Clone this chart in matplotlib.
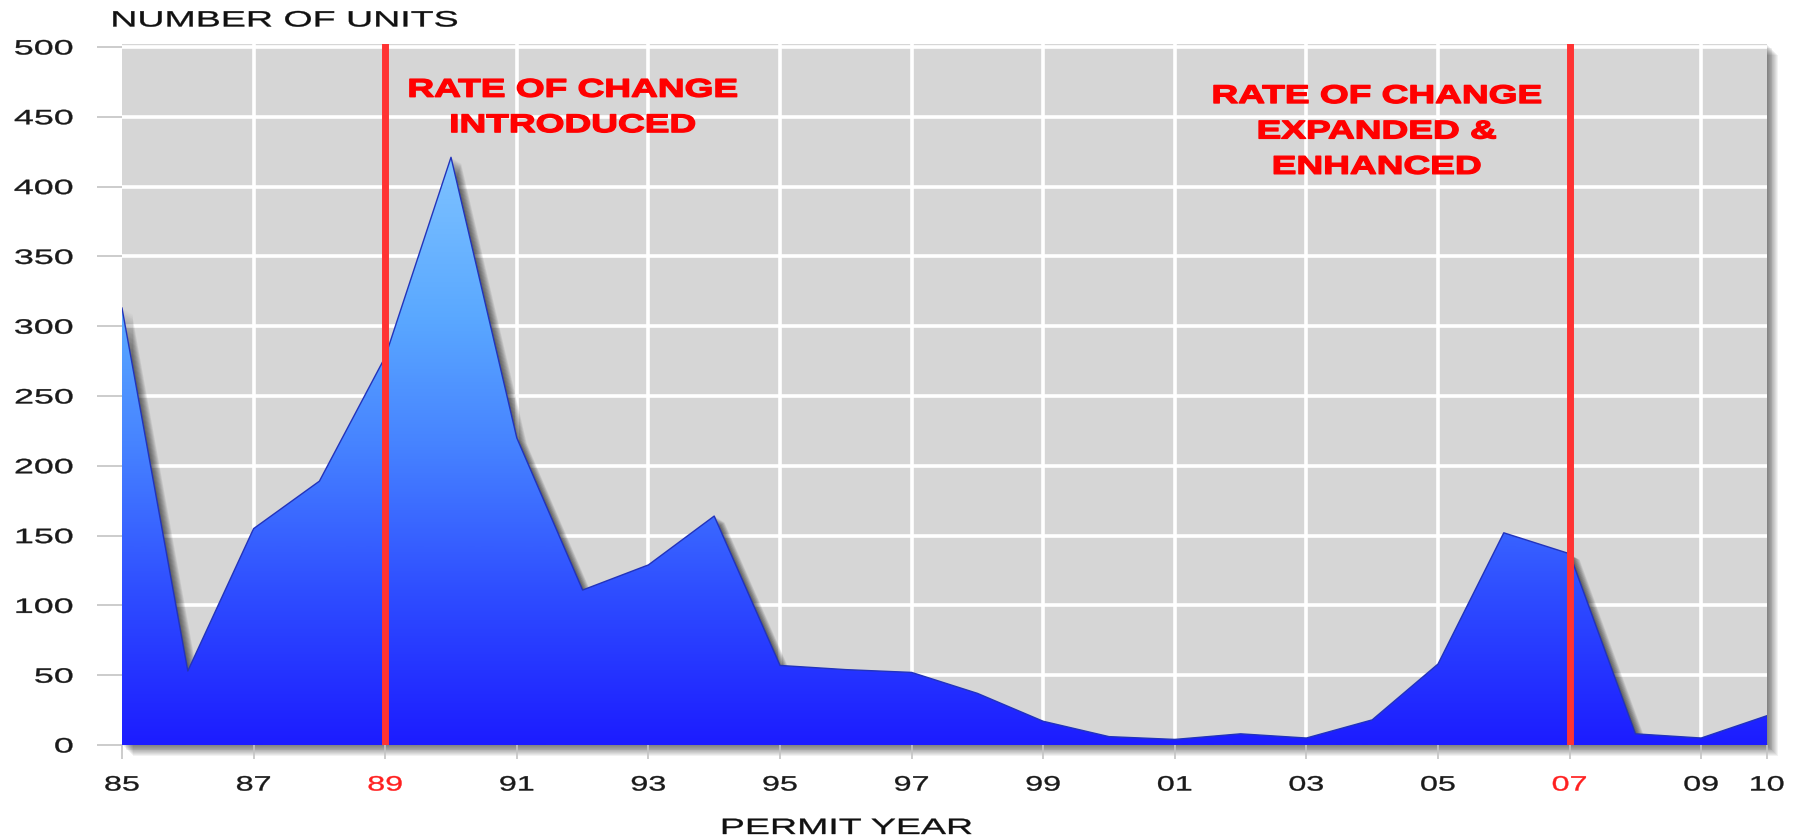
import numpy as np
import matplotlib
matplotlib.use("Agg")
import matplotlib.pyplot as plt
from matplotlib import patheffects
from matplotlib.transforms import Affine2D, ScaledTranslation
from matplotlib.colors import LinearSegmentedColormap
from matplotlib.patches import Rectangle, PathPatch

# ---------------- data ----------------
years = list(range(1985, 2011))
units = [313, 53, 155, 189, 278, 421, 220, 111, 129, 164,
         57, 54, 52, 37, 17, 6, 4, 8, 5, 18,
         58, 152, 137, 8, 5, 21]

xtick_years = [1985, 1987, 1989, 1991, 1993, 1995, 1997, 1999,
               2001, 2003, 2005, 2007, 2009, 2010]
xtick_labels = ["85", "87", "89", "91", "93", "95", "97", "99",
                "01", "03", "05", "07", "09", "10"]
ytick_values = [0, 50, 100, 150, 200, 250, 300, 350, 400, 450, 500]

event_years = [1989, 2007]
event_tick_labels = ["89", "07"]
event_labels = ["RATE OF CHANGE\nINTRODUCED",
                "RATE OF CHANGE\nEXPANDED &\nENHANCED"]
event_label_pos = [(1991.85, 478), (2004.07, 473.5)]

y_title = "NUMBER OF UNITS"
x_title = "PERMIT YEAR"


# -------------- helpers --------------
class HStretch(patheffects.AbstractPathEffect):
    """Draw text glyphs horizontally stretched (wide lettering), optionally emboldened."""
    def __init__(self, sx, anchor="center", stroke=0.0):
        super().__init__((0.0, 0.0))
        self.sx = sx
        self.anchor = anchor
        self.stroke = stroke

    def draw_path(self, renderer, gc, tpath, affine, rgbFace=None):
        ext = tpath.get_extents()
        if not np.all(np.isfinite([ext.x0, ext.x1])):
            renderer.draw_path(gc, tpath, affine, rgbFace)
            return
        if self.anchor == "left":
            cx = ext.x0
        elif self.anchor == "right":
            cx = ext.x1
        else:
            cx = 0.5 * (ext.x0 + ext.x1)
        t = Affine2D().translate(-cx, 0).scale(self.sx, 1.0).translate(cx, 0) + affine
        if self.stroke > 0 and rgbFace is not None:
            gc0 = renderer.new_gc()
            gc0.copy_properties(gc)
            gc0.set_linewidth(self.stroke)
            gc0.set_foreground(rgbFace)
            gc0.set_joinstyle("round")
            renderer.draw_path(gc0, tpath, t, rgbFace)
            gc0.restore()
        else:
            renderer.draw_path(gc, tpath, t, rgbFace)


FONT = "Liberation Sans"
plt.rcParams["font.family"] = [FONT, "DejaVu Sans"]

W, H = 1803, 838
fig = plt.figure(figsize=(W / 100, H / 100), dpi=100, facecolor="white")

left_px, right_px, bottom_px, top_px = 122, 1767, 745, 44
ax = fig.add_axes([left_px / W, 1 - bottom_px / H,
                   (right_px - left_px) / W, (bottom_px - top_px) / H])
ax.set_facecolor("#d6d6d6")
for s in ax.spines.values():
    s.set_visible(False)

YTOP = 500 * (bottom_px - top_px) / (bottom_px - 47)

# shadow of the plot box (right / bottom)
for i in range(1, 13):
    off = ScaledTranslation(i * 0.9 / 100, -i * 0.9 / 100, fig.dpi_scale_trans)
    r = Rectangle((0, 0), 1, 1, transform=ax.transAxes + off,
                  facecolor="black", edgecolor="none", alpha=0.05, zorder=-1)
    fig.add_artist(r)

# grid
for yv in ytick_values[1:]:
    ax.axhline(yv, color="white", lw=2.6, zorder=1)
for xv in xtick_years:
    if years[0] < xv < years[-1]:
        ax.axvline(xv, color="white", lw=2.6, zorder=1)

# area shadow
for i in range(1, 11):
    off = ScaledTranslation(i * 1.0 / 100, -i * 0.6 / 100, fig.dpi_scale_trans)
    ax.fill_between(years, units, 0, transform=ax.transData + off,
                    facecolor="black", edgecolor="none", alpha=0.075, zorder=1.5)

# gradient-filled area
cmap = LinearSegmentedColormap.from_list(
    "bluegrad",
    [(0.0, "#1c1cff"), (0.25, "#2e4cff"), (0.5, "#4682ff"),
     (0.72, "#5aa8ff"), (1.0, "#80c4ff")])
grad = np.linspace(0, 1, 512).reshape(-1, 1)
im = ax.imshow(grad, extent=[years[0], years[-1], 0, max(units) + 5],
               origin="lower", aspect="auto", cmap=cmap, zorder=2,
               interpolation="bilinear")
poly = ax.fill_between(years, units, 0, facecolor="none", edgecolor="none")
clip = PathPatch(poly.get_paths()[0], transform=ax.transData,
                 facecolor="none", edgecolor="none")
ax.add_patch(clip)
im.set_clip_path(clip)
ax.plot(years, units, color="#2233bb", lw=1.0, zorder=2.2)
ax.set_xlim(years[0], years[-1])
ax.set_ylim(0, YTOP)

# event lines
for ev in event_years:
    ax.axvline(ev, color="#ff3333", lw=5.0, zorder=3)

# event annotations
for (lx, ly), txt in zip(event_label_pos, event_labels):
    t = ax.text(lx, ly, txt, ha="center", va="top", multialignment="center",
                color="#ff0000", fontsize=18.4, fontweight="bold",
                family=[FONT, "DejaVu Sans"], linespacing=1.6, zorder=4)
    t.set_path_effects([HStretch(1.45, "center", stroke=1.0)])

# ticks
ax.set_yticks(ytick_values)
ax.set_xticks(xtick_years)
ax.set_xticklabels(xtick_labels)
ax.tick_params(axis="y", length=18, width=1.2, color="#c4c4c4", pad=17,
               labelsize=15, labelcolor="#1a1a1a")
ax.tick_params(axis="x", length=10, width=1.2, color="#c4c4c4", pad=12,
               labelsize=15, labelcolor="#1a1a1a")
for lbl in ax.get_yticklabels():
    lbl.set_path_effects([HStretch(1.72, "right", stroke=0.25)])
for lbl in ax.get_xticklabels():
    lbl.set_path_effects([HStretch(1.55, "center", stroke=0.25)])
    if lbl.get_text() in event_tick_labels:
        lbl.set_color("#ff2020")

# axis titles
ax.set_ylabel(y_title, rotation=0, ha="left", va="baseline", fontsize=16,
              color="#111111")
ax.yaxis.set_label_coords((111.5 - left_px) / (right_px - left_px),
                          (bottom_px - 26.5) / (bottom_px - top_px))
ax.yaxis.label.set_path_effects([HStretch(1.69, "left", stroke=0.25)])

ax.set_xlabel(x_title, ha="center", va="top", fontsize=16, color="#111111")
ax.xaxis.set_label_coords((847 - left_px) / (right_px - left_px),
                          (bottom_px - 818) / (bottom_px - top_px))
ax.xaxis.label.set_path_effects([HStretch(1.69, "center", stroke=0.25)])

fig.savefig("out.png", dpi=100, facecolor="white")
